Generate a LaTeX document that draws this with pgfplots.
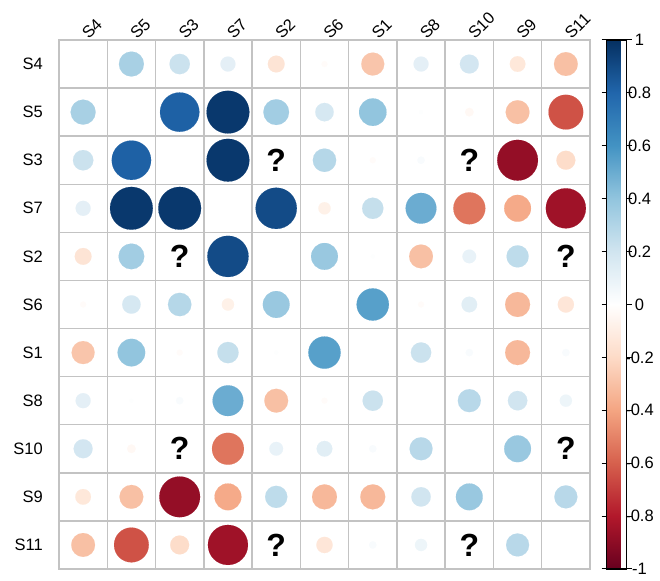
\documentclass[border=0pt]{standalone}
\usepackage{pgfplots}
\pgfplotsset{compat=1.18}
\usepackage{pgfplotstable}
\usepackage{fontspec}
\setmainfont{Liberation Sans}
\definecolor{gridgray}{RGB}{195,195,195}
\pgfplotsset{colormap={rdbu}{rgb255(0)=(103,0,31) rgb255(1)=(178,24,43) rgb255(2)=(214,96,77) rgb255(3)=(244,165,130) rgb255(4)=(253,219,199) rgb255(5)=(255,255,255) rgb255(6)=(209,229,240) rgb255(7)=(146,197,222) rgb255(8)=(67,147,195) rgb255(9)=(33,102,172) rgb255(10)=(5,48,97)}}
\pgfplotstableread{
c r v
2 1 0.33
3 1 0.22
4 1 0.12
5 1 -0.15
6 1 -0.02
7 1 -0.28
8 1 0.12
9 1 0.19
10 1 -0.13
11 1 -0.30
1 2 0.33
3 2 0.82
4 2 0.97
5 2 0.35
6 2 0.18
7 2 0.40
8 2 0.01
9 2 -0.04
10 2 -0.30
11 2 -0.64
1 3 0.22
2 3 0.82
4 3 0.97
6 3 0.29
7 3 -0.02
8 3 0.03
10 3 -0.88
11 3 -0.19
1 4 0.12
2 4 0.97
3 4 0.97
5 4 0.90
6 4 -0.08
7 4 0.24
8 4 0.50
9 4 -0.54
10 4 -0.38
11 4 -0.85
1 5 -0.15
2 5 0.35
4 5 0.90
6 5 0.38
7 5 0.01
8 5 -0.30
9 5 0.10
10 5 0.26
1 6 -0.02
2 6 0.18
3 6 0.29
4 6 -0.08
5 6 0.38
7 6 0.55
8 6 -0.02
9 6 0.13
10 6 -0.33
11 6 -0.14
1 7 -0.28
2 7 0.40
3 7 -0.02
4 7 0.24
5 7 0.01
6 7 0.55
8 7 0.22
9 7 0.03
10 7 -0.33
11 7 0.03
1 8 0.12
2 8 0.01
3 8 0.03
4 8 0.50
5 8 -0.30
6 8 -0.02
7 8 0.22
9 8 0.28
10 8 0.20
11 8 0.08
1 9 0.19
2 9 -0.04
4 9 -0.54
5 9 0.10
6 9 0.13
7 9 0.03
8 9 0.28
10 9 0.38
1 10 -0.13
2 10 -0.30
3 10 -0.88
4 10 -0.38
5 10 0.26
6 10 -0.33
7 10 -0.33
8 10 0.20
9 10 0.38
11 10 0.28
1 11 -0.30
2 11 -0.64
3 11 -0.19
4 11 -0.85
6 11 -0.14
7 11 0.03
8 11 0.08
10 11 0.28
}\cordata
\pgfplotstableread{
c r
5 3
3 5
9 3
3 9
11 5
5 11
11 9
9 11
}\nadata
\begin{document}
\begin{tikzpicture}
\path[use as bounding box] (0,0) rectangle (660pt,580pt);
\begin{axis}[
  at={(59pt,11pt)}, anchor=south west,
  scale only axis, width=531pt, height=529pt,
  xmin=0.5, xmax=11.5, ymin=0.5, ymax=11.5,
  xtick={1,...,11},
  xticklabels={S4,S5,S3,S7,S2,S6,S1,S8,S10,S9,S11},
  ytick={1,...,11},
  yticklabels={S11,S9,S10,S8,S1,S6,S2,S7,S3,S5,S4},
  minor xtick={0.5,1.5,...,11.5},
  minor ytick={0.5,1.5,...,11.5},
  xminorgrids, yminorgrids,
  minor grid style={draw=gridgray, line width=1.4pt},
  major tick length=0pt, minor tick length=0pt,
  axis line style={draw=gridgray, line width=1.4pt},
  xticklabel pos=upper,
  tick label style={font=\fontsize{16.5}{18}\selectfont},
  xticklabel style={rotate=45, anchor=south west, inner sep=0pt, xshift=4pt, yshift=-4.4pt},
  yticklabel style={anchor=east, inner sep=0pt, xshift=-16pt},
  colormap name=rdbu,
  point meta min=-1, point meta max=1,
  colorbar,
  colorbar style={
    at={(parent axis.north east)}, anchor=north west, xshift=8pt,
    width=20pt,
    axis line style={draw=black, line width=1.2pt},
    ytick={-1,-0.8,-0.6,-0.4,-0.2,0,0.2,0.4,0.6,0.8,1},
    yticklabels={-1,-0.8,-0.6,-0.4,-0.2,0,0.2,0.4,0.6,0.8,1},
    yticklabel pos=right,
    major tick length=5pt, tick align=outside,
    ytick style={draw=black, line width=1pt},
    yticklabel style={font=\fontsize{16.5}{18}\selectfont, anchor=center, xshift=8pt},
  },
  clip=false,
]
\addplot[scatter, only marks, mark=*, line width=0.1pt,
  point meta=explicit,
  scatter/use mapped color={draw=mapped color, fill=mapped color},
  visualization depends on={\thisrow{v} \as \val},
  scatter/@pre marker code/.append style={/tikz/mark size={21.7*sqrt(abs(\val))}}]
  table[x=c, y expr=12-\thisrow{r}, meta=v] {\cordata};
\addplot[only marks, mark=none, nodes near coords={?},
  every node near coord/.append style={font=\bfseries\fontsize{32}{32}\selectfont, anchor=center, inner sep=0pt, text=black}]
  table[x=c, y expr=12-\thisrow{r}] {\nadata};
\end{axis}
\end{tikzpicture}
\end{document}
